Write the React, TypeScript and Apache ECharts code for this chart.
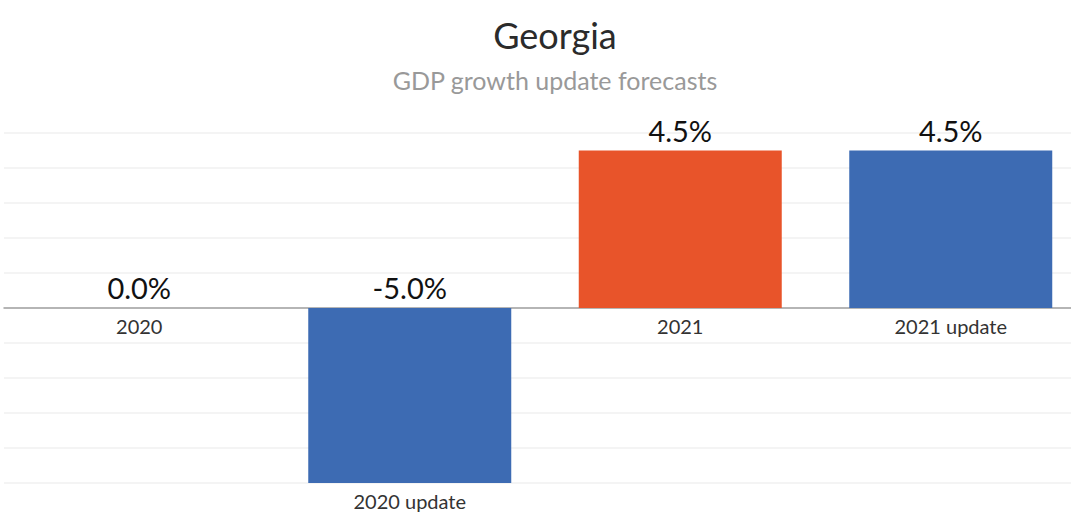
import React, { useEffect, useRef } from "react";
import * as echarts from "echarts";

const categories = ["2020", "2020 update", "2021", "2021 update"];
const values = [0.0, -5.0, 4.5, 4.5];
const barColors = ["#3d6bb3", "#3d6bb3", "#e8542a", "#3d6bb3"];
const yMin = -5;
const yMax = 5;
const yInterval = 1;

const FONT = "Lato, 'Noto Sans', sans-serif";

export default function App() {
  const ref = useRef<HTMLDivElement>(null);
  useEffect(() => {
    if (!ref.current) return;
    const chart = echarts.init(ref.current, undefined, { renderer: "svg" });
    chart.setOption({
      animation: false,
      backgroundColor: "#ffffff",
      title: {
        text: "Georgia",
        subtext: "GDP growth update forecasts",
        left: 550,
        top: 12,
        textAlign: "center",
        itemGap: 14,
        textStyle: { fontFamily: FONT, fontSize: 36, fontWeight: "normal", color: "#2b2b2b" },
        subtextStyle: { fontFamily: FONT, fontSize: 25, color: "#999999" },
      },
      grid: { left: 4, width: 1082, top: 133, height: 350, containLabel: false },
      xAxis: {
        type: "category",
        data: categories,
        axisLine: { show: true, onZero: true, lineStyle: { color: "#a0a0a0", width: 1.5 } },
        axisTick: { show: false },
        axisLabel: { show: false },
        splitLine: { show: false },
      },
      yAxis: {
        type: "value",
        min: yMin,
        max: yMax,
        interval: yInterval,
        axisLine: { show: false },
        axisTick: { show: false },
        axisLabel: { show: false },
        splitLine: { show: true, lineStyle: { color: "#f0f0f0", width: 1.5 } },
      },
      series: [
        {
          type: "bar",
          barWidth: 203,
          data: values.map((v, i) => ({ value: v, itemStyle: { color: barColors[i] } })),
          label: {
            show: true,
            position: "top",
            distance: 6,
            fontFamily: FONT,
            fontSize: 29,
            color: "#111111",
            formatter: (p: any) => `${Number(p.value).toFixed(1)}%`,
          },
          z: 2,
        },
        {
          type: "bar",
          barWidth: 203,
          barGap: "-100%",
          data: values,
          itemStyle: { color: "rgba(0,0,0,0)" },
          label: {
            show: true,
            position: "bottom",
            distance: 8,
            fontFamily: FONT,
            fontSize: 20,
            color: "#333333",
            formatter: (p: any) => p.name,
          },
          z: 3,
          silent: true,
        },
      ],
    });
    return () => chart.dispose();
  }, []);
  return (
    <div
      style={{
        position: "absolute",
        left: 0,
        top: 0,
        width: 1071,
        height: 513,
        overflow: "hidden",
        background: "#ffffff",
      }}
    >
      <div ref={ref} style={{ width: 1090, height: 513 }} />
    </div>
  );
}
